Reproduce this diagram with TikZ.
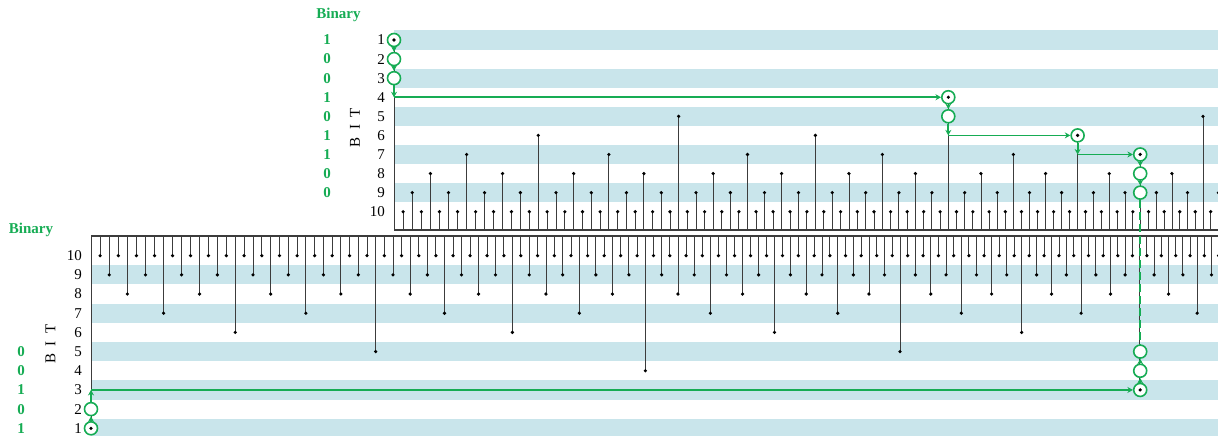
\documentclass[tikz,border=0pt]{standalone}
\usepackage{fontspec}
\setmainfont{Liberation Serif}
\usetikzlibrary{arrows.meta}
\definecolor{band}{RGB}{201,229,235}
\definecolor{grn}{RGB}{22,172,84}
\definecolor{stemc}{RGB}{60,60,60}
\newcommand{\toptick}[2]{%
  \pgfmathsetmacro\xx{394+9.13*#1-0.00732*#1*#1}%
  \pgfmathsetmacro\yy{40+19.08*(#2-1)}%
  \draw[stemline] (\xx,230) -- (\xx,\yy);
  \fill (\xx,\yy) circle[radius=1.8pt];}
\newcommand{\bottick}[2]{%
  \pgfmathsetmacro\xx{91+9.13*#1-0.00732*#1*#1}%
  \pgfmathsetmacro\yy{428.3-19.18*(#2-1)}%
  \draw[stemline] (\xx,236) -- (\xx,\yy);
  \fill (\xx,\yy) circle[radius=1.8pt];}
\begin{document}
\begin{tikzpicture}[x=1pt,y=-1pt,
  stemline/.style={draw=stemc,line width=0.9pt},
  gcirc/.style={circle,draw=grn,line width=1.6pt,fill=white,minimum size=13pt,inner sep=0pt},
  garrow/.style={draw=grn,line width=1.8pt,-{Stealth[length=5.5pt,width=6pt]}},
  gdash/.style={draw=grn,line width=1.8pt,dash pattern=on 8pt off 4pt},
  lbl/.style={font=\fontsize{15}{18}\selectfont,inner sep=0pt},
  bin/.style={font=\fontsize{15}{18}\selectfont\bfseries,text=grn,inner sep=0pt},
]
\useasboundingbox (0,0) rectangle (1218,436);
\clip (0,0) rectangle (1218,436);

% bands
\foreach \r in {1,3,5,7,9}
  \fill[band] (394,{40+19.08*(\r-1)-9.6}) rectangle (1218,{40+19.08*(\r-1)+9.6});
\foreach \r in {1,3,5,7,9}
  \fill[band] (91,{428.3-19.18*(\r-1)-9.6}) rectangle (1218,{428.3-19.18*(\r-1)+9.6});

% top ruler
\draw[stemline,line width=1.2pt] (394,230) -- (1218,230);
\draw[stemline] (394,230) -- (394,40);
\fill (394,40) circle[radius=1.8pt];
\foreach \k in {1,3,...,99} {\toptick{\k}{10}}
\foreach \k in {2,6,...,98} {\toptick{\k}{9}}
\foreach \k in {4,12,...,92} {\toptick{\k}{8}}
\foreach \k in {8,24,...,88} {\toptick{\k}{7}}
\foreach \k in {16,48,80} {\toptick{\k}{6}}
\foreach \k in {32,96} {\toptick{\k}{5}}
\toptick{64}{4}

% bottom ruler
\draw[stemline,line width=1.2pt] (91,236) -- (1218,236);
\draw[stemline] (91,236) -- (91,428.3);
\fill (91,428.3) circle[radius=1.8pt];
\foreach \k in {1,3,...,139} {\bottick{\k}{10}}
\foreach \k in {2,6,...,138} {\bottick{\k}{9}}
\foreach \k in {4,12,...,132} {\bottick{\k}{8}}
\foreach \k in {8,24,...,136} {\bottick{\k}{7}}
\foreach \k in {16,48,80,112} {\bottick{\k}{6}}
\foreach \k in {32,96} {\bottick{\k}{5}}
\bottick{64}{4}
\bottick{128}{3}

% labels top
\node[bin,anchor=base] (bt) at (338.5,18.5) {Binary};
\foreach \r in {1,...,10}
  \node[lbl,anchor=east] (tn\r) at (385,{40+19.08*(\r-1)}) {\r};
\node[lbl,rotate=90] (tbit) at (355,127.5) {B\hspace{0.5em}I\hspace{0.5em}T};
\foreach \d [count=\r] in {1,0,0,1,0,1,1,0,0}
  \node[bin] (tb\r) at (327,{40+19.08*(\r-1)}) {\d};

% labels bottom
\node[bin,anchor=base] (bb) at (31,233.5) {Binary};
\foreach \r in {1,...,10}
  \node[lbl,anchor=east] (bn\r) at (82,{428.3-19.18*(\r-1)}) {\r};
\node[lbl,rotate=90] (bbit) at (50.5,344) {B\hspace{0.5em}I\hspace{0.5em}T};
\foreach \d [count=\r] in {1,0,1,0,0}
  \node[bin] (bd\r) at (21,{428.3-19.18*(\r-1)}) {\d};

% green path, top
\node[gcirc] (c1) at (394,40) {};
\node[gcirc] (c2) at (394,59.08) {};
\node[gcirc] (c3) at (394,78.16) {};
\coordinate (p4) at (394,97.24);
\node[gcirc] (c4) at (948.3,97.24) {};
\node[gcirc] (c5) at (948.3,116.32) {};
\coordinate (p6) at (948.3,135.4);
\node[gcirc] (c6) at (1077.6,135.4) {};
\coordinate (p7) at (1077.6,154.48);
\node[gcirc] (c7) at (1140.2,154.48) {};
\node[gcirc] (c8) at (1140.2,173.56) {};
\node[gcirc] (c9) at (1140.2,192.64) {};

% green path, bottom
\node[gcirc] (b1) at (91,428.3) {};
\node[gcirc] (b2) at (91,409.12) {};
\coordinate (p3) at (91,389.94);
\node[gcirc] (b3) at (1140.2,389.94) {};
\node[gcirc] (b4) at (1140.2,370.76) {};
\node[gcirc] (b5) at (1140.2,351.58) {};

\foreach \n in {c1,c4,c6,c7,b1,b3}
  \fill (\n.center) circle[radius=1.8pt];

\draw[garrow] (c1) -- (c2);
\draw[garrow] (c2) -- (c3);
\draw[garrow] (c3) -- (p4);
\draw[garrow] (p4) -- (c4);
\draw[garrow] (c4) -- (c5);
\draw[garrow] (c5) -- (p6);
\draw[garrow] (p6) -- (c6);
\draw[garrow] (c6) -- (p7);
\draw[garrow] (p7) -- (c7);
\draw[garrow] (c7) -- (c8);
\draw[garrow] (c8) -- (c9);
\draw[gdash] (c9) -- (b5);

\draw[garrow] (b1) -- (b2);
\draw[garrow] (b2) -- (p3);
\draw[garrow] (p3) -- (b3);
\draw[garrow] (b3) -- (b4);
\draw[garrow] (b4) -- (b5);
\end{tikzpicture}
\end{document}
